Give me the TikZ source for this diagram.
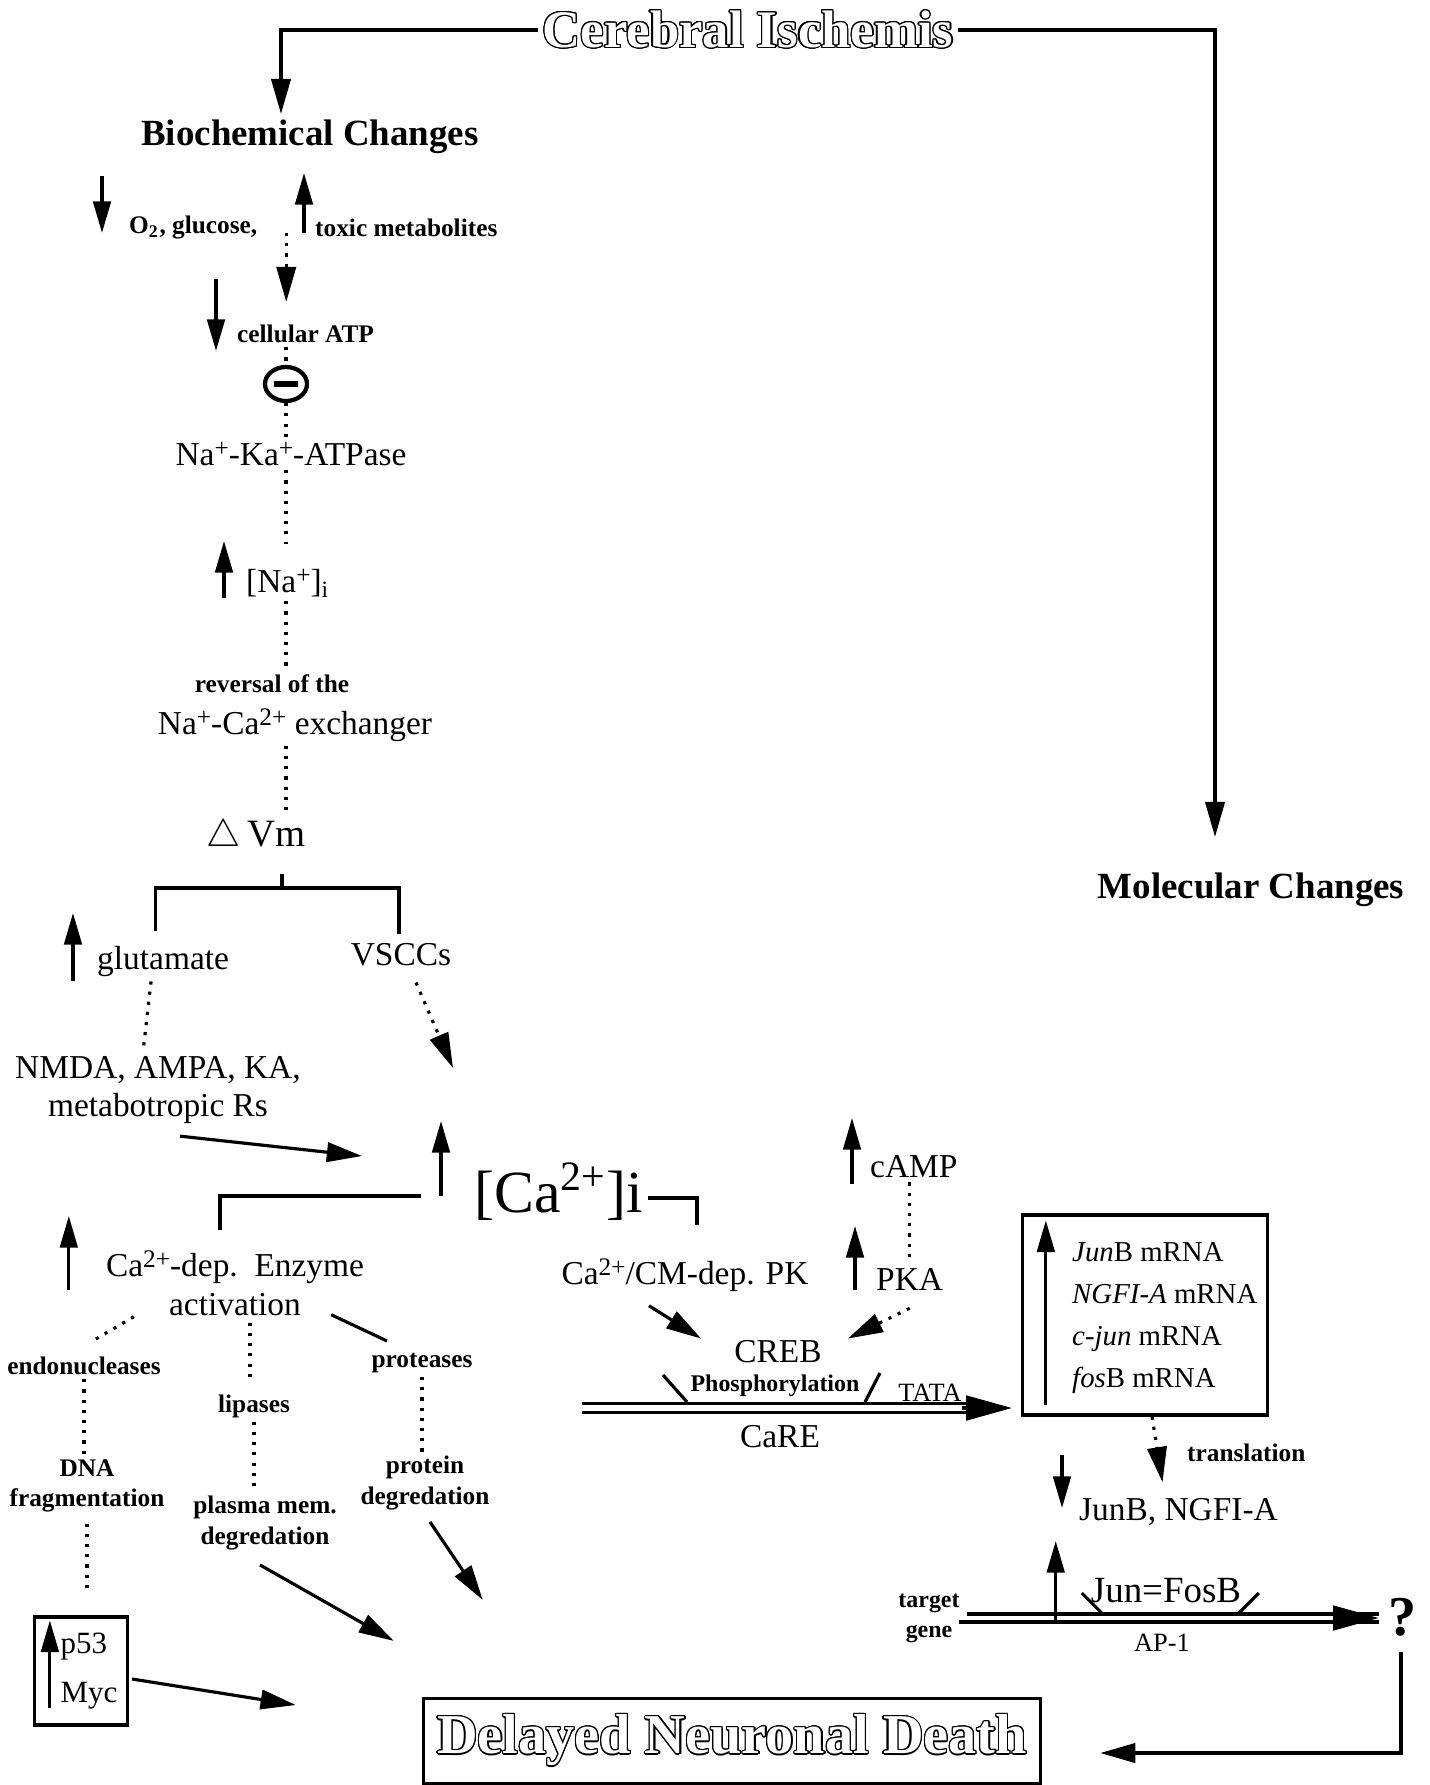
\documentclass[tikz,border=0pt]{standalone}
\usepackage{fontspec}
\setmainfont{Liberation Serif}
\usepackage{contour}
\contourlength{0.35pt}
\usetikzlibrary{arrows.meta,calc,shapes.geometric}

\newcommand{\ionch}[1]{\raisebox{0.6ex}{\fontsize{7.2}{8}\selectfont #1}}

\tikzset{
    heading/.style={font=\fontsize{10.5}{12}\selectfont\bfseries, inner sep=1pt},
    txt/.style={font=\fontsize{9.5}{11}\selectfont, inner sep=1pt, align=center},
    tsmall/.style={font=\fontsize{7.2}{8.6}\selectfont\bfseries, inner sep=1pt, align=center},
    hollowtxt/.style={font=\fontsize{15}{17}\selectfont\bfseries, inner sep=1pt},
    flow/.style={line width=0.9pt, -{Triangle[length=10pt,width=5.5pt]}},
    updown/.style={line width=0.9pt, -{Triangle[length=9pt,width=5pt]}},
    dots/.style={line width=0.9pt, dotted},
    dotflow/.style={line width=0.9pt, dotted, -{Triangle[length=10pt,width=5.5pt]}},
    link/.style={line width=0.9pt},
    genetip/.style={line width=0.9pt, -{Triangle[length=13pt,width=7pt]}},
    boxed/.style={draw, line width=0.9pt}
}

\begin{document}
\begin{tikzpicture}[x=0.01cm, y=-0.01cm]
    \useasboundingbox (0,0) rectangle (1429,1785);
    % Ischemia at the top
    \node[hollowtxt] (isch) at (748,30) {\textcolor{white}{\contour{black}{Cerebral Ischemis}}};
    \coordinate (bioin) at (281,114);
    \coordinate (molin) at (1215,837);
    \draw[flow] (isch.west) -| (bioin);
    \draw[flow] (isch.east) -| (molin);
    \node[heading] (bio) at (310,137) {Biochemical Changes};
    \node[heading] (mol) at (1251,890) {Molecular Changes};

    % Energy failure
    \node[tsmall, anchor=west] (o2) at (125,228) {O\textsubscript{2}, glucose,};
    \node[tsmall, anchor=west] (tox) at (311,228) {toxic metabolites};
    \draw[updown] ($(o2.west)+(-23,-52)$) -- ++(0,57);
    \draw[updown] ($(tox.west)+(-7,5)$) -- ++(0,-60);
    \node[tsmall, anchor=west] (atp) at (233,334) {cellular ATP};
    \draw[updown] ($(atp.west)+(-17,-55)$) -- ++(0,72);
    \draw[dotflow] ($(o2.east)!.5!(tox.west)+(0,5)$) -- ++(0,69);
    \node[draw, ellipse, line width=1.2pt, minimum width=0.42cm, minimum height=0.34cm, inner sep=0pt] (inh) at (286,384) {};
    \draw[line width=1.8pt] ($(inh.center)+(-12,0)$) -- ++(24,0);
    \draw[dots] (atp.south -| inh) -- (inh.north);
    \node[txt] (nak) at (291,454) {Na\ionch{+}-Ka\ionch{+}-ATPase};
    \draw[dots] (inh.south) -- (inh.south |- nak.north);

    % Sodium and membrane potential
    \coordinate (spine) at (286,0);
    \node[txt, anchor=west] (nai) at (242,583) {[Na\ionch{+}]\textsubscript{i}};
    \draw[dots, shorten >=6pt] (nak.south -| spine) -- (nai.north -| spine);
    \draw[updown] ($(nai.west)+(-18,15)$) -- ++(0,-57);
    \node[tsmall] (rev) at (272,684) {reversal of the};
    \node[txt] (ncx) at (295,725) {Na\ionch{+}-Ca\ionch{2+} exchanger};
    \draw[dots] (nai.south -| spine) -- (rev.north -| spine);
    \node[txt, font=\fontsize{11}{13}\selectfont] (dvm) at (256,837) {$\bigtriangleup$\,Vm};
    \draw[dots] (ncx.south -| spine) -- (dvm.north -| spine);

    % Fork to glutamate and VSCCs
    \coordinate (fork) at (282,888);
    \node[txt, anchor=west] (glut) at (93,962) {glutamate};
    \node[txt] (vscc) at (401,955) {VSCCs};
    \draw[link] (fork |- dvm.south) ++(0,16) -- (fork);
    \draw[link] ($(glut.north)+(-8,-12)$) |- (fork) -| ($(vscc.north)+(-2,-5)$);
    \draw[updown] ($(glut.west)+(-20,19)$) -- ++(0,-68);
    \node[txt] (rec) at (158,1090) {NMDA, AMPA, KA,\\metabotropic Rs};
    \draw[dots] ($(glut.south)+(-12,0)$) -- ($(rec.north)+(-15,0)$);

    % Calcium
    \node[txt, font=\fontsize{17}{20}\selectfont, anchor=west] (cai) at (470,1192) {[Ca\textsuperscript{2+}]i};
    \draw[flow] ($(rec.south)+(22,8)$) -- ($(cai.west)+(-108,-36)$);
    \draw[dotflow] ($(vscc.south)+(15,12)$) -- ($(cai.west)+(-17,-124)$);
    \draw[updown] ($(cai.west)+(-29,4)$) -- ++(0,-75);
    \node[txt] (enz) at (235,1283) {Ca\ionch{2+}-dep.\ \ Enzyme\\activation};
    \node[txt] (cacm) at (685,1275) {Ca\ionch{2+}/CM-dep. PK};
    \draw[link] ($(cai.west)+(-49,4)$) -| ($(enz.north)+(-15,-16)$);
    \draw[link] ($(cai.east)+(0,6)$) -| ($(cacm.north)+(12,-29)$);
    \draw[updown] ($(enz.west)+(-33,7)$) -- ++(0,-74);

    % Enzymes
    \node[tsmall] (endo) at (84,1366) {endonucleases};
    \node[tsmall] (lip) at (254,1406) {lipases};
    \node[tsmall] (prot) at (422,1363) {proteases};
    \draw[dots] ($(enz.south west)+(32,-3)$) -- ($(endo.north)+(7,-11)$);
    \draw[dots] ($(enz.south)+(15,3)$) -- ($(lip.north)+(-4,-11)$);
    \draw[link] ($(enz.south east)+(-37,-5)$) -- ($(prot.north)+(-35,-8)$);
    \node[tsmall] (dna) at (87,1486) {DNA\\fragmentation};
    \node[tsmall] (plasma) at (265,1523) {plasma mem.\\degredation};
    \node[tsmall] (protd) at (425,1483) {protein\\degredation};
    \draw[dots] (endo.south) -- (endo.south |- dna.north);
    \draw[dots] (lip.south) -- (lip.south |- plasma.north);
    \draw[dots] (prot.south) -- (prot.south |- protd.north);

    % p53 / Myc
    \node[boxed, minimum width=0.93cm, minimum height=1.08cm] (p53) at (81,1671) {};
    \node[txt, font=\fontsize{8.8}{14}\selectfont, anchor=north west, align=left, inner sep=0pt] (p53txt) at ($(p53.north west)+(27,17)$) {p53\\Myc};
    \draw[updown] ($(p53.south west)+(17,-19)$) -- ($(p53.north west)+(17,5)$);
    \draw[dots, shorten <=2pt, shorten >=6pt] (dna.south) -- (dna.south |- p53.north);

    % Delayed neuronal death
    \node[boxed, hollowtxt, font=\fontsize{16}{18}\selectfont\bfseries, minimum width=6.17cm, minimum height=0.85cm] (death) at (732,1741) {\textcolor{white}{\contour{black}{Delayed Neuronal Death}}};
    \draw[flow] ($(p53.east)+(3,8)$) -- ($(death.west)+(-126,-36)$);
    \draw[flow] ($(plasma.south)+(-5,11)$) -- ($(death.north west)+(-28,-56)$);
    \draw[flow] ($(protd.south)+(5,8)$) -- ($(death.north west)+(61,-97)$);

    % CREB signalling
    \node[txt, anchor=west] (camp) at (866,1167) {cAMP};
    \node[txt, anchor=west] (pka) at (872,1279) {PKA};
    \node[txt] (creb) at (778,1352) {CREB};
    \draw[updown] ($(camp.west)+(-14,17)$) -- ++(0,-66);
    \draw[updown] ($(pka.west)+(-17,11)$) -- ++(0,-64);
    \draw[dots] (camp.south -| pka.north) -- (pka.north);
    \draw[flow] ($(cacm.south)+(-36,10)$) -- ($(creb.north west)+(-29,2)$);
    \draw[dotflow] ($(pka.south)+(0,14)$) -- ($(creb.north east)+(22,2)$);

    % CaRE gene
    \coordinate (care0) at (582,1408);
    \node[txt] (care) at (780,1437) {CaRE};
    \node[tsmall, font=\fontsize{6.8}{8}\selectfont\bfseries] (phos) at (775,1386) {Phosphorylation};
    \node[txt, font=\fontsize{7.5}{9}\selectfont] (tata) at (930,1393) {TATA};
    \node[boxed, minimum width=2.45cm, minimum height=2.0cm] (mrna) at (1145,1315) {};
    \draw[link] ($(care0)+(0,-4.5)$) -- ++(405,0) ($(care0)+(0,4.5)$) -- ++(405,0);
    \draw[genetip] ($(care0)+(380,0)$) -- ($(care0 -| mrna.west)+(-9,0)$);
    \draw[link] ($(care0)+(81,-33)$) -- ++(24,27);
    \draw[link] ($(care0)+(298,-35)$) -- ++(-15,29);

    % mRNA and translation
    \node[txt, font=\fontsize{8.2}{12}\selectfont, anchor=west, align=left] (mlist) at (1068,1318) {\textit{Jun}B mRNA\\\textit{NGFI-A} mRNA\\\textit{c-jun} mRNA\\\textit{fos}B mRNA};
    \draw[updown] ($(mrna.south west)+(25,-12)$) -- ($(mrna.north west)+(25,7)$);
    \node[tsmall, anchor=west] (trans) at (1183,1453) {translation};
    \node[txt, anchor=west] (jun) at (1075,1512) {JunB, NGFI-A};
    \draw[dotflow] ($(mrna.south)+(7,0)$) -- ($(jun.north)+(-16,-12)$);
    \draw[updown] ($(jun.west)+(-13,-57)$) -- ++(0,53);

    % AP-1 target gene
    \node[txt, font=\fontsize{10.5}{12}\selectfont] (jfos) at (1166,1591) {Jun=FosB};
    \node[tsmall, font=\fontsize{6.8}{8.5}\selectfont\bfseries] (tgt) at (929,1618) {target\\gene};
    \node[txt, font=\fontsize{7.5}{9}\selectfont] (ap1) at (1162,1643) {AP-1};
    \node[font=\fontsize{16}{18}\selectfont\bfseries, inner sep=1pt] (q) at (1403,1617) {?};
    \coordinate (ap0) at (tgt.east);
    \draw[link] ($(ap0)+(3,-4)$) -- ++(412,0) ($(ap0)+(-5,4)$) -- ++(420,0);
    \draw[genetip] ($(ap0)+(390,0)$) -- ($(q.west)+(-6,1)$);
    \draw[link] ($(ap0)+(118,-25)$) -- ++(22,22);
    \draw[link] ($(ap0)+(295,-25)$) -- ++(-22,22);
    \draw[updown] ($(jfos.west)+(-31,31)$) -- ++(0,-81);
    \draw[flow] ($(q.south)+(-2,12)$) |- ($(death.east)+(58,12)$);
\end{tikzpicture}
\end{document}
